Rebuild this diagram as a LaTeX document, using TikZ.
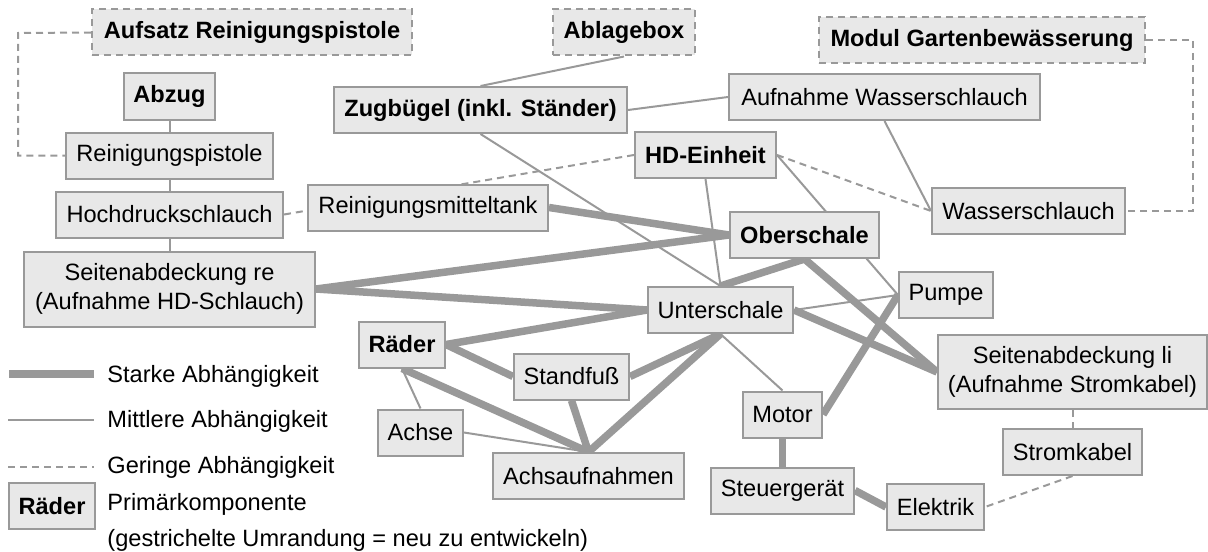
\documentclass[tikz,border=0pt]{standalone}
\usepackage{fontspec}
\setmainfont{Liberation Sans}
\usetikzlibrary{positioning,backgrounds}
\definecolor{boxgray}{gray}{0.91}
\definecolor{edgegray}{gray}{0.6}
\tikzset{
  every node/.style={font=\fontsize{11.8}{14.5}\selectfont}
}
\tikzset{comp/.style={
    draw=edgegray,
    fill=boxgray,
    line width=1pt,
    minimum width=#1,
    minimum height=23pt,
    inner sep=0pt,
    align=center
  },
  comp/.default=60pt}
\tikzset{prim/.style={font=\fontsize{11.8}{14.5}\selectfont\bfseries},
  newpart/.style={dash pattern=on 3.5pt off 2.5pt},
  legendtext/.style={inner sep=0pt,anchor=west}}
\tikzset{strongdep/.style={draw=edgegray,line width=3.75pt},
  middep/.style={draw=edgegray,line width=1pt},
  weakdep/.style={draw=edgegray,line width=1pt,dash pattern=on 3.5pt off 2.5pt}}

\begin{document}
\begin{tikzpicture}[x=0.5pt,y=-0.5pt]
  \useasboundingbox (0,0) rectangle (1208,551);

  \node (Aufsatz) [comp=160pt,newpart,prim] at (252,32.5) {Aufsatz Reinigungspistole};
  \node (Abzug) [comp=45.5pt,prim] at (169.5,96.5) {Abzug};
  \node (Pistole) [comp=103.5pt,below=5.5pt of Abzug] {Reinigungspistole};
  \node (HD_Schlauch) [comp=113.5pt,below=5.5pt of Pistole] {Hochdruckschlauch};
  \node (Seite_re) [comp=145.5pt,minimum height=37.5pt,below=6pt of HD_Schlauch]
    {Seitenabdeckung re\\(Aufnahme HD-Schlauch)};
  \node (Mitteltank) [comp=120pt] at (428,207.5) {Reinigungsmitteltank};

  \node (Zugbuegel) [comp=146.5pt,prim] at (480.5,110) {Zugbügel (inkl. Ständer)};
  \node (Ablagebox) [comp=71pt,newpart,prim] at (624,32.5) {Ablagebox};
  \node (Aufn_Wasser) [comp=155.5pt] at (884.5,97) {Aufnahme Wasserschlauch};
  \node (HD_Einheit) [comp=70.5pt,prim] at (705.5,155) {HD-Einheit};
  \node (Garten) [comp=163pt,newpart,prim] at (982,40) {Modul Gartenbewässerung};
  \node (Wasserschlauch) [comp=96.5pt] at (1028.5,211) {Wasserschlauch};

  \node (Oberschale) [comp=74.5pt,prim] at (804.5,235) {Oberschale};
  \node (Unterschale) [comp=72.5pt] at (720.5,310) {Unterschale};
  \node (Pumpe) [comp=47pt] at (946,295) {Pumpe};
  \node (Seite_li) [comp=134.5pt,minimum height=37pt] at (1072.5,372)
    {Seitenabdeckung li\\(Aufnahme Stromkabel)};
  \node (Stromkabel) [comp=69.5pt,below=9pt of Seite_li] {Stromkabel};
  \node (Motor) [comp=39.5pt] at (782.5,414.5) {Motor};
  \node (Steuergeraet) [comp=71.5pt,below=14pt of Motor] {Steuergerät};
  \node (Elektrik) [comp=48.5pt] at (935.5,507) {Elektrik};

  \node (Raeder) [comp=43pt,prim] at (402,344.5) {Räder};
  \node (Standfuss) [comp=57.5pt] at (571.5,376.5) {Standfuß};
  \node (Achse) [comp=42.5pt] at (420.5,432.5) {Achse};
  \node (Achsaufn) [comp=95.5pt] at (588.5,476) {Achsaufnahmen};

  \coordinate (pistol_bend) at (18,33);
  \coordinate (garden_bend) at (1193,40);

  \begin{scope}[on background layer]
    \draw [strongdep] (Mitteltank.east) -- (Oberschale.west);
    \draw [strongdep] (Seite_re.east) -- (Oberschale.west);
    \draw [strongdep] (Seite_re.east) -- (Unterschale.west);
    \draw [strongdep] (Raeder.east) -- (Unterschale.west);
    \draw [strongdep] (Unterschale.north) -- (Oberschale.south);
    \draw [strongdep] (Oberschale.south) -- (Seite_li.west);
    \draw [strongdep] (Unterschale.east) -- (Seite_li.west);
    \draw [strongdep] (Pumpe.west) -- (Motor.east);
    \draw [strongdep] (Raeder.east) -- (Standfuss.west);
    \draw [strongdep] (Standfuss.east) -- (Unterschale.south);
    \draw [strongdep] (Achsaufn.north) -- (Unterschale.south);
    \draw [strongdep] (Standfuss.south) -- (Achsaufn.north);
    \draw [strongdep] (Raeder.south) -- (Achsaufn.north);
    \draw [strongdep] (Motor) -- (Steuergeraet);
    \draw [strongdep] (Steuergeraet.east) -- (Elektrik.west);

    \draw [middep] (Abzug) -- (Pistole);
    \draw [middep] (Pistole) -- (HD_Schlauch);
    \draw [middep] (HD_Schlauch) -- (Seite_re);
    \draw [middep] (Ablagebox.south) -- (Zugbuegel.north);
    \draw [middep] (Zugbuegel.east) -- (Aufn_Wasser.west);
    \draw [middep] (Zugbuegel.south) -- (Unterschale.north);
    \draw [middep] (HD_Einheit.south) -- (Unterschale.north);
    \draw [middep] (HD_Einheit.east) -- (Pumpe.west);
    \draw [middep] (Unterschale.east) -- (Pumpe.west);
    \draw [middep] (Unterschale.south) -- (Motor.north);
    \draw [middep] (Aufn_Wasser.south) -- (Wasserschlauch.west);
    \draw [middep] (Raeder.south) -- (Achse.north);
    \draw [middep] (Achse.east) -- (Achsaufn.north);

    \draw [weakdep] (Aufsatz.west) -- (pistol_bend) |- (Pistole.west);
    \draw [weakdep] (HD_Schlauch.east) -- (HD_Einheit.west);
    \draw [weakdep] (HD_Einheit.east) -- (Wasserschlauch.west);
    \draw [weakdep] (Garten.east) -- (garden_bend) |- (Wasserschlauch.east);
    \draw [weakdep] (Seite_li) -- (Stromkabel);
    \draw [weakdep] (Stromkabel.south) -- (Elektrik.east);
  \end{scope}

  \node (legend_strong) [legendtext] at (107,376.5) {Starke Abhängigkeit};
  \node (legend_mid) [legendtext] at (107,421.5) {Mittlere Abhängigkeit};
  \node (legend_weak) [legendtext] at (107,467) {Geringe Abhängigkeit};
  \coordinate (legend_strong_a) at (9,374);
  \coordinate (legend_mid_a) at (8,420);
  \coordinate (legend_weak_a) at (8,467);
  \draw [strongdep] (legend_strong_a) -- ([xshift=-6.5pt] legend_strong.west|-legend_strong_a);
  \draw [middep] (legend_mid_a) -- ([xshift=-6.5pt] legend_mid.west|-legend_mid_a);
  \draw [weakdep] (legend_weak_a) -- ([xshift=-6.5pt] legend_weak.west|-legend_weak_a);

  \node (legend_prim) [comp=43pt,prim] at (52,506) {Räder};
  \node (legend_prim_text) [inner sep=0pt,anchor=base west] at (107,510) {Primärkomponente};
  \node (legend_new_text) [inner sep=0pt,anchor=base west] at (107,546)
    {(gestrichelte Umrandung = neu zu entwickeln)};
\end{tikzpicture}
\end{document}
